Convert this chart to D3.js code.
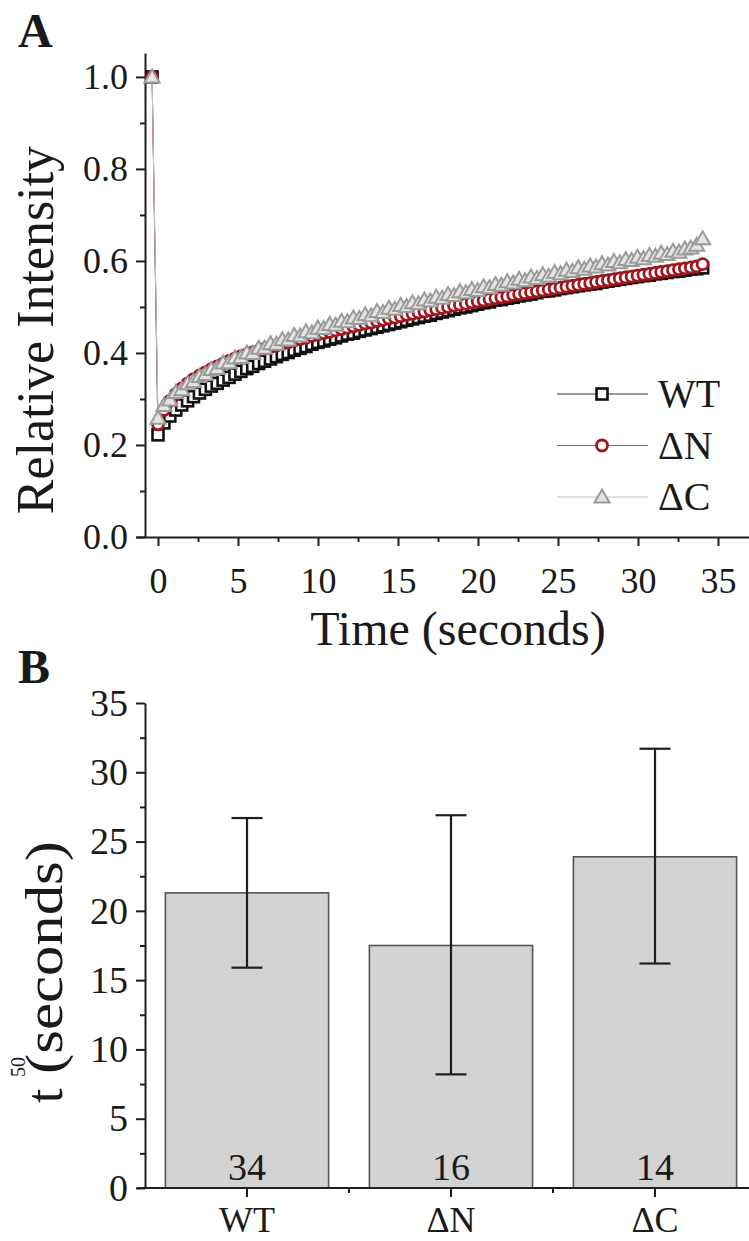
<!DOCTYPE html>
<html lang="en">
<head>
<meta charset="UTF-8">
<script src="https://cdn.jsdelivr.net/npm/d3@7"></script>
<title>FRAP recovery</title>
<style>
  body { margin: 0; background: #fff; }
  svg text { font-family: 'Liberation Serif', 'Times New Roman', serif; fill: #1a1a1a; }
</style>
</head>
<body>
<svg id="fig" width="749" height="1241"></svg>
<script>
// ---- panel A data: recovery curves (time in s, relative intensity)
const time = [
  -0.37, 0, 0.37, 0.74, 1.11, 1.48, 1.85, 2.22, 2.59, 2.96,
  3.33, 3.70, 4.07, 4.44, 4.81, 5.18, 5.55, 5.92, 6.29, 6.66,
  7.03, 7.40, 7.77, 8.14, 8.51, 8.88, 9.25, 9.62, 9.99, 10.36,
  10.73, 11.10, 11.47, 11.84, 12.21, 12.58, 12.95, 13.32, 13.69, 14.06,
  14.43, 14.80, 15.17, 15.54, 15.91, 16.28, 16.65, 17.02, 17.39, 17.76,
  18.13, 18.50, 18.87, 19.24, 19.61, 19.98, 20.35, 20.72, 21.09, 21.46,
  21.83, 22.20, 22.57, 22.94, 23.31, 23.68, 24.05, 24.42, 24.79, 25.16,
  25.53, 25.90, 26.27, 26.64, 27.01, 27.38, 27.75, 28.12, 28.49, 28.86,
  29.23, 29.60, 29.97, 30.34, 30.71, 31.08, 31.45, 31.82, 32.19, 32.56,
  32.93, 33.30, 33.67, 34.04
];
const wt = [
  1.000, 0.222, 0.248, 0.263, 0.276, 0.287, 0.296, 0.305, 0.313, 0.321,
  0.328, 0.334, 0.341, 0.347, 0.354, 0.360, 0.366, 0.371, 0.377, 0.382,
  0.387, 0.392, 0.397, 0.401, 0.406, 0.410, 0.414, 0.419, 0.423, 0.426,
  0.430, 0.433, 0.437, 0.441, 0.443, 0.447, 0.450, 0.453, 0.456, 0.459,
  0.462, 0.465, 0.468, 0.471, 0.474, 0.477, 0.480, 0.482, 0.486, 0.489,
  0.492, 0.495, 0.498, 0.500, 0.503, 0.506, 0.509, 0.511, 0.515, 0.516,
  0.519, 0.521, 0.524, 0.526, 0.528, 0.531, 0.534, 0.535, 0.537, 0.540,
  0.542, 0.544, 0.546, 0.548, 0.550, 0.551, 0.554, 0.556, 0.558, 0.560,
  0.562, 0.564, 0.566, 0.568, 0.569, 0.572, 0.573, 0.575, 0.577, 0.578,
  0.580, 0.582, 0.583, 0.585
];
const dN = [
  1.000, 0.245, 0.276, 0.296, 0.311, 0.323, 0.334, 0.343, 0.351, 0.358,
  0.365, 0.371, 0.377, 0.383, 0.388, 0.393, 0.397, 0.401, 0.405, 0.409,
  0.413, 0.416, 0.420, 0.423, 0.427, 0.430, 0.433, 0.437, 0.440, 0.443,
  0.446, 0.449, 0.452, 0.455, 0.458, 0.461, 0.464, 0.466, 0.469, 0.472,
  0.475, 0.477, 0.480, 0.483, 0.485, 0.488, 0.490, 0.493, 0.495, 0.498,
  0.500, 0.503, 0.505, 0.507, 0.510, 0.512, 0.514, 0.517, 0.519, 0.521,
  0.523, 0.526, 0.528, 0.530, 0.532, 0.534, 0.536, 0.538, 0.540, 0.542,
  0.544, 0.546, 0.548, 0.550, 0.552, 0.554, 0.556, 0.558, 0.560, 0.562,
  0.564, 0.566, 0.568, 0.570, 0.572, 0.574, 0.576, 0.578, 0.580, 0.582,
  0.584, 0.586, 0.588, 0.593
];
const dC = [
  1.000, 0.258, 0.286, 0.298, 0.314, 0.320, 0.333, 0.338, 0.349, 0.353,
  0.364, 0.366, 0.378, 0.379, 0.389, 0.390, 0.400, 0.399, 0.410, 0.410,
  0.420, 0.419, 0.429, 0.428, 0.438, 0.437, 0.446, 0.444, 0.454, 0.453,
  0.462, 0.460, 0.469, 0.468, 0.476, 0.475, 0.483, 0.481, 0.490, 0.488,
  0.497, 0.495, 0.503, 0.501, 0.509, 0.507, 0.515, 0.513, 0.521, 0.519,
  0.527, 0.525, 0.533, 0.531, 0.538, 0.536, 0.544, 0.542, 0.549, 0.547,
  0.555, 0.552, 0.560, 0.557, 0.565, 0.562, 0.570, 0.567, 0.575, 0.572,
  0.580, 0.577, 0.585, 0.582, 0.589, 0.587, 0.594, 0.591, 0.599, 0.596,
  0.603, 0.601, 0.608, 0.605, 0.612, 0.610, 0.617, 0.614, 0.621, 0.619,
  0.626, 0.628, 0.634, 0.648
];
const seriesNames = ["WT", "\u0394N", "\u0394C"];
const xTicksA = [0, 5, 10, 15, 20, 25, 30, 35];
const xMinorA = [2.5, 7.5, 12.5, 17.5, 22.5, 27.5, 32.5];
const yTicksA = [0, 0.2, 0.4, 0.6, 0.8, 1.0];
const yMinorA = [0.1, 0.3, 0.5, 0.7, 0.9];

// ---- panel B data: t50 per construct
const groups = ["WT", "\u0394N", "\u0394C"];
const t50 = [21.3, 17.5, 23.9];
const errLow = [15.9, 8.2, 16.2];
const errHigh = [26.7, 26.9, 31.7];
const counts = [34, 16, 14];
const yTicksB = [0, 5, 10, 15, 20, 25, 30, 35];
const yMinorB = [2.5, 7.5, 12.5, 17.5, 22.5, 27.5, 32.5];

const svg = d3.select("#fig");
const ink = "#1e1e1e";

// ================= panel A =================
const xA = d3.scaleLinear().domain([-1.375, 37.5]).range([136, 758]);
const yA = d3.scaleLinear().domain([0, 1.052]).range([537, 53]);

const axXA = svg.append("g").attr("transform", "translate(0,537)")
  .call(d3.axisBottom(xA).tickValues(xTicksA).tickSize(9).tickSizeOuter(0).tickPadding(21));
const axXAm = svg.append("g").attr("transform", "translate(0,537)")
  .call(d3.axisBottom(xA).tickValues(xMinorA).tickSize(5).tickFormat(""));
axXAm.select(".domain").remove();

const axYA = svg.append("g").attr("transform", "translate(145,0)")
  .call(d3.axisLeft(yA).tickValues(yTicksA).tickFormat(d3.format(".1f")).tickSize(9).tickSizeOuter(0).tickPadding(8));
const axYAm = svg.append("g").attr("transform", "translate(145,0)")
  .call(d3.axisLeft(yA).tickValues(yMinorA).tickSize(5).tickFormat(""));
axYAm.select(".domain").remove();

[axXA, axXAm, axYA, axYAm].forEach(g => {
  g.selectAll("path, line").attr("stroke", ink).attr("stroke-width", 2);
  g.selectAll("text").attr("font-size", 36).attr("fill", ink)
    .style("font-family", "'Liberation Serif', serif");
});

svg.append("text").attr("x", 18).attr("y", 47)
  .attr("font-size", 48).attr("font-weight", "bold").text("A");

svg.append("text")
  .attr("transform", "translate(53,330) rotate(-90)")
  .attr("text-anchor", "middle").attr("font-size", 52)
  .text("Relative Intensity");

svg.append("text").attr("x", 458).attr("y", 645)
  .attr("text-anchor", "middle").attr("font-size", 48)
  .text("Time (seconds)");

const series = [
  { name: seriesNames[0], values: wt, line: "#333", stroke: "#111", fill: "#fff", shape: "square" },
  { name: seriesNames[1], values: dN, line: "#b3474c", stroke: "#a3151c", fill: "#fff", shape: "circle" },
  { name: seriesNames[2], values: dC, line: "#c4c4c4", stroke: "#9b9b9b", fill: "#e4e4e4", shape: "triangle" }
];

const lineGen = d3.line().x(d => xA(d.t)).y(d => yA(d.v));

function drawMarker(g, shape, cx, cy, s) {
  if (shape === "square") {
    g.append("rect").attr("x", cx - 5.5).attr("y", cy - 5.5).attr("width", 11).attr("height", 11)
      .attr("fill", s.fill).attr("stroke", s.stroke).attr("stroke-width", 2.6);
  } else if (shape === "circle") {
    g.append("circle").attr("cx", cx).attr("cy", cy).attr("r", 5.5)
      .attr("fill", s.fill).attr("stroke", s.stroke).attr("stroke-width", 2.8);
  } else {
    g.append("path").attr("transform", `translate(${cx},${cy})`)
      .attr("d", "M0,-7.5L7.5,5.5L-7.5,5.5Z")
      .attr("fill", s.fill).attr("stroke", s.stroke).attr("stroke-width", 2);
  }
}

series.forEach(s => {
  const pts = time.map((t, i) => ({ t: t, v: s.values[i] }));
  const g = svg.append("g");
  g.append("path").datum(pts).attr("d", lineGen)
    .attr("fill", "none").attr("stroke", s.line).attr("stroke-width", 1);
  pts.forEach(p => drawMarker(g, s.shape, xA(p.t), yA(p.v), s));
});

// legend
series.forEach((s, i) => {
  const ly = 394 + i * 51.5;
  const g = svg.append("g");
  g.append("line").attr("x1", 557).attr("x2", 648).attr("y1", ly).attr("y2", ly)
    .attr("stroke", s.line).attr("stroke-width", 1.2);
  drawMarker(g, s.shape, 602, ly, s);
  g.append("text").attr("x", 658).attr("y", ly + 13).attr("font-size", 40).text(s.name);
});

// ================= panel B =================
const xB = d3.scaleBand().domain(groups).range([145, 757]).paddingInner(0.2).paddingOuter(0.1);
const yB = d3.scaleLinear().domain([0, 35]).range([1188, 703]);

svg.append("text").attr("x", 18).attr("y", 683)
  .attr("font-size", 48).attr("font-weight", "bold").text("B");

const bars = svg.append("g");
groups.forEach((gname, i) => {
  bars.append("rect")
    .attr("x", xB(gname)).attr("width", xB.bandwidth())
    .attr("y", yB(t50[i])).attr("height", yB(0) - yB(t50[i]))
    .attr("fill", "#d3d3d3").attr("stroke", "#555").attr("stroke-width", 1.6);
});

const axYB = svg.append("g").attr("transform", "translate(145,0)")
  .call(d3.axisLeft(yB).tickValues(yTicksB).tickSize(9).tickSizeOuter(0).tickPadding(8));
const axYBm = svg.append("g").attr("transform", "translate(145,0)")
  .call(d3.axisLeft(yB).tickValues(yMinorB).tickSize(5).tickFormat(""));
axYBm.select(".domain").remove();

const axXB = svg.append("g").attr("transform", "translate(0,1188)")
  .call(d3.axisBottom(xB).tickSize(9).tickSizeOuter(0).tickPadding(9));
axXB.select(".domain").remove();
svg.append("line").attr("x1", 137).attr("x2", 749).attr("y1", 1188).attr("y2", 1188)
  .attr("stroke", ink).attr("stroke-width", 2);
// minor ticks between categories
const gaps = groups.slice(1).map((gname, i) => (xB(groups[i]) + xB.bandwidth() + xB(gname)) / 2);
svg.append("g").selectAll("line").data(gaps).enter().append("line")
  .attr("x1", d => d).attr("x2", d => d).attr("y1", 1188).attr("y2", 1193)
  .attr("stroke", ink).attr("stroke-width", 2);

[axYB, axYBm, axXB].forEach(g => {
  g.selectAll("path, line").attr("stroke", ink).attr("stroke-width", 2);
  g.selectAll("text").attr("font-size", 38).attr("fill", ink)
    .style("font-family", "'Liberation Serif', serif");
});
axXB.selectAll("text").attr("font-size", 36);

// error bars
const eb = svg.append("g").attr("stroke", ink).attr("stroke-width", 2.2);
groups.forEach((gname, i) => {
  const cx = xB(gname) + xB.bandwidth() / 2;
  eb.append("line").attr("x1", cx).attr("x2", cx).attr("y1", yB(errLow[i])).attr("y2", yB(errHigh[i]));
  [errLow[i], errHigh[i]].forEach(v => {
    eb.append("line").attr("x1", cx - 15.5).attr("x2", cx + 15.5).attr("y1", yB(v)).attr("y2", yB(v));
  });
  svg.append("text").attr("x", cx).attr("y", 1180).attr("text-anchor", "middle")
    .attr("font-size", 38).text(counts[i]);
});

// y title with superscript 50
const yt = svg.append("g").attr("transform", "translate(62,1103) rotate(-90)");
yt.append("text").attr("x", 0).attr("y", 0).attr("font-size", 52).text("t");
yt.append("text").attr("x", 26).attr("y", -37).attr("font-size", 20).text("50");
yt.append("text").attr("x", 29).attr("y", 0).attr("font-size", 52)
  .attr("textLength", 233).attr("lengthAdjust", "spacingAndGlyphs").text("(seconds)");
</script>
</body>
</html>
